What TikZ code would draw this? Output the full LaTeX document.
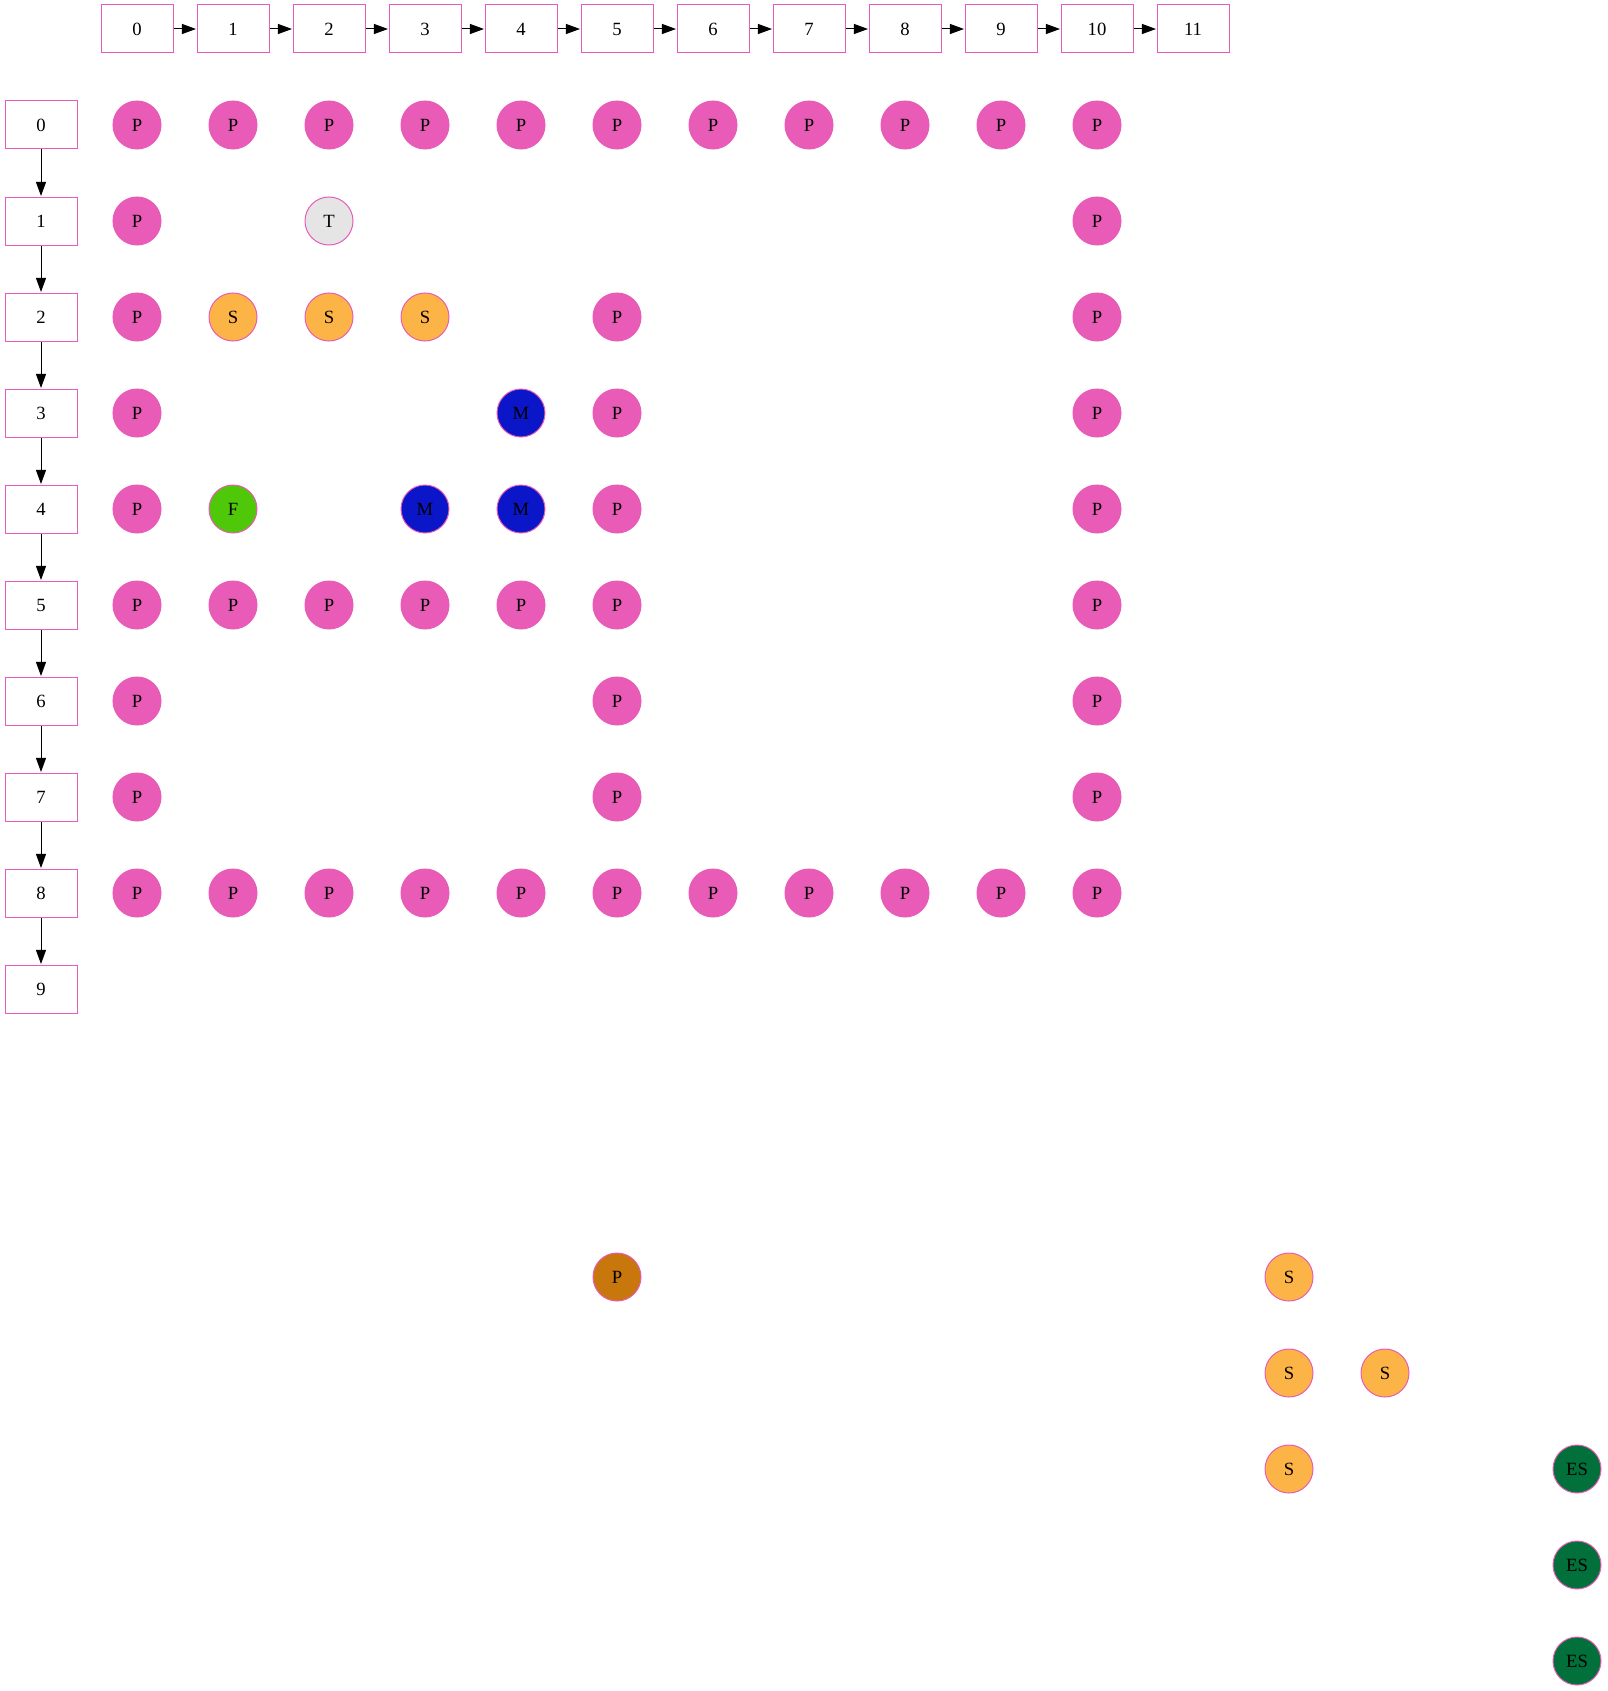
\documentclass[tikz,border=0pt]{standalone}
\usepackage{fontspec}
\setmainfont{Liberation Serif}
\usetikzlibrary{arrows.meta}
\definecolor{pk}{HTML}{E85CB8}
\definecolor{orS}{HTML}{FCB446}
\definecolor{blM}{HTML}{0A16C8}
\definecolor{grF}{HTML}{4FC809}
\definecolor{gyT}{HTML}{E5E5E5}
\definecolor{brP}{HTML}{C8770C}
\definecolor{dgES}{HTML}{02703A}
\tikzset{
  idxbox/.style={draw=pk, line width=0.75pt, fill=white, minimum width=54pt, minimum height=36pt, inner sep=0pt, font=\fontsize{14}{16}\selectfont},
  cell/.style={circle, draw=pk, line width=0.75pt, minimum size=36pt, inner sep=0pt, font=\fontsize{14}{16}\selectfont},
  cP/.style={cell, fill=pk},
  cS/.style={cell, fill=orS},
  cM/.style={cell, fill=blM},
  cF/.style={cell, fill=grF},
  cT/.style={cell, fill=gyT},
  cB/.style={cell, fill=brP},
  cE/.style={cell, fill=dgES},
  link/.style={-{Triangle[length=10.5pt,width=7.5pt]}, line width=0.75pt, black, shorten >=0.4pt}
}
\begin{document}
\begin{tikzpicture}[x=0.75pt, y=-0.75pt]
\useasboundingbox (0,0) rectangle (1607,1691);
% top index boxes
\foreach \j in {0,...,11} {
  \node[idxbox] (t\j) at ({137+96*\j},29) {\j};
}
\foreach \j [evaluate=\j as \k using int(\j+1)] in {0,...,10} {
  \draw[link] (t\j) -- (t\k);
}
% left index boxes
\foreach \i in {0,...,9} {
  \node[idxbox] (l\i) at (41,{125+96*\i}) {\i};
}
\foreach \i [evaluate=\i as \k using int(\i+1)] in {0,...,8} {
  \draw[link] (l\i) -- (l\k);
}
% grid cells: row/col/style/label
\foreach \r/\c/\s/\t in {
  0/0/cP/P,0/1/cP/P,0/2/cP/P,0/3/cP/P,0/4/cP/P,0/5/cP/P,0/6/cP/P,0/7/cP/P,0/8/cP/P,0/9/cP/P,0/10/cP/P,
  1/0/cP/P,1/2/cT/T,1/10/cP/P,
  2/0/cP/P,2/1/cS/S,2/2/cS/S,2/3/cS/S,2/5/cP/P,2/10/cP/P,
  3/0/cP/P,3/4/cM/M,3/5/cP/P,3/10/cP/P,
  4/0/cP/P,4/1/cF/F,4/3/cM/M,4/4/cM/M,4/5/cP/P,4/10/cP/P,
  5/0/cP/P,5/1/cP/P,5/2/cP/P,5/3/cP/P,5/4/cP/P,5/5/cP/P,5/10/cP/P,
  6/0/cP/P,6/5/cP/P,6/10/cP/P,
  7/0/cP/P,7/5/cP/P,7/10/cP/P,
  8/0/cP/P,8/1/cP/P,8/2/cP/P,8/3/cP/P,8/4/cP/P,8/5/cP/P,8/6/cP/P,8/7/cP/P,8/8/cP/P,8/9/cP/P,8/10/cP/P,
  12/5/cB/P,12/12/cS/S,
  13/12/cS/S,13/13/cS/S,
  14/12/cS/S,14/15/cE/ES,
  15/15/cE/ES,
  16/15/cE/ES} {
  \node[\s] (c-\r-\c) at ({137+96*\c},{125+96*\r}) {\t};
}
\end{tikzpicture}
\end{document}
